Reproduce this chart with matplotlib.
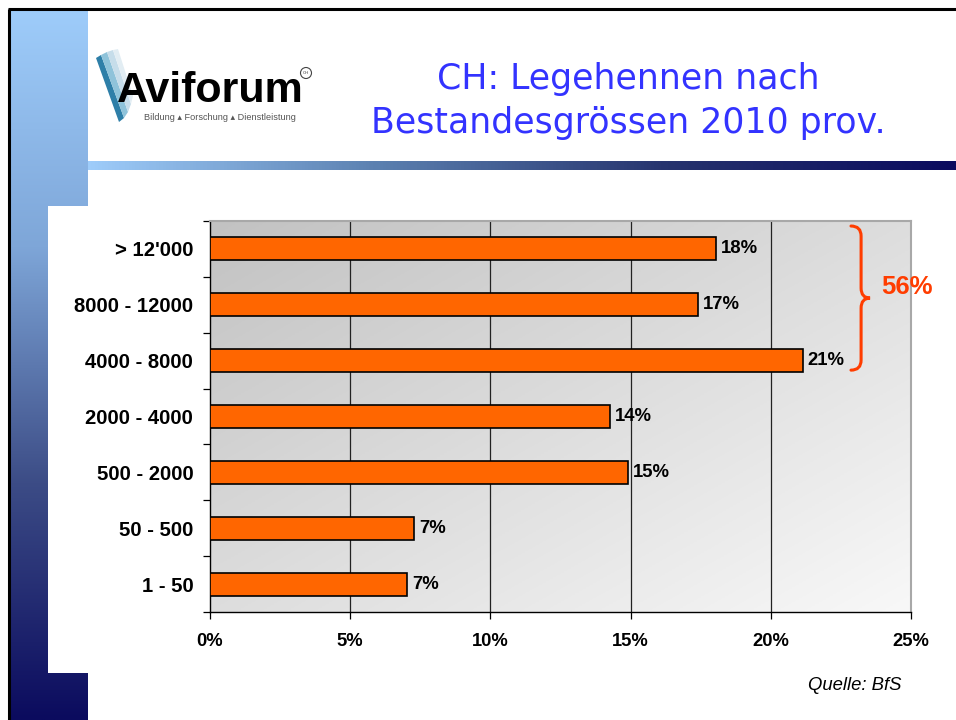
import numpy as np
import matplotlib
matplotlib.use("Agg")
import matplotlib.pyplot as plt
from matplotlib.patches import Rectangle, PathPatch, Polygon, Circle
from matplotlib.path import Path
from matplotlib.colors import LinearSegmentedColormap

# ---------------- data ----------------
categories = ["1 - 50", "50 - 500", "500 - 2000", "2000 - 4000",
              "4000 - 8000", "8000 - 12000", "> 12'000"]
values = [7.04, 7.29, 14.90, 14.25, 21.14, 17.39, 18.04]
value_labels = ["7%", "7%", "15%", "14%", "21%", "17%", "18%"]
xticks = [0, 5, 10, 15, 20, 25]
xtick_labels = ["0%", "5%", "10%", "15%", "20%", "25%"]
group_total_label = "56%"
title = "CH: Legehennen nach\nBestandesgrössen 2010 prov."
source = "Quelle: BfS"

W, H = 956, 720
fig = plt.figure(figsize=(W / 100, H / 100), dpi=100)
fig.patch.set_facecolor("white")

# ---------------- background / slide decoration (pixel coords) ----------------
bg = fig.add_axes([0, 0, 1, 1])
bg.set_xlim(0, W)
bg.set_ylim(H, 0)
bg.axis("off")

# left vertical gradient strip
strip_cmap = LinearSegmentedColormap.from_list("strip", ["#9ECCFA", "#7EA6D8", "#3C4C86", "#0B0B5E"])
grad = np.linspace(0, 1, 256).reshape(-1, 1)
bg.imshow(grad, cmap=strip_cmap, extent=(9, 88, 720, 10), aspect="auto", zorder=1)

# horizontal gradient bar under the title
hgrad = np.linspace(0, 1, 256).reshape(1, -1)
h_cmap = LinearSegmentedColormap.from_list("hbar", ["#9ECCFA", "#5B80B0", "#26336E", "#0B0B5E"])
bg.imshow(hgrad, cmap=h_cmap, extent=(88, 956, 170, 161), aspect="auto", zorder=1)

# white chart panel
bg.add_patch(Rectangle((48, 206), 956 - 48, 673 - 206, facecolor="white", edgecolor="none", zorder=2))

# black slide border (left and top)
bg.plot([9, 9], [9, 720], color="black", lw=2.2, zorder=3, solid_capstyle="butt")
bg.plot([8, 956], [9, 9], color="black", lw=2.2, zorder=3, solid_capstyle="butt")

# logo: feather strokes
feathers = [
    ([(96, 58), (101, 55), (124, 118), (119, 122)], "#2E7FA8"),
    ([(101, 55), (107, 52), (128, 112), (124, 118)], "#8FC3DA"),
    ([(107, 52), (113, 50), (131, 104), (128, 112)], "#C6DDEA"),
    ([(113, 50), (118, 49), (133, 96), (131, 104)], "#E2EDF3"),
]
for pts, col in feathers:
    bg.add_patch(Polygon(pts, closed=True, facecolor=col, edgecolor="none", zorder=3))
bg.text(117, 102, "Aviforum", fontsize=31, fontweight="bold", family="Liberation Sans",
        color="black", ha="left", va="baseline", zorder=4)
bg.add_patch(Circle((306, 73), 5.5, facecolor="white", edgecolor="#444444", lw=0.8, zorder=4))
bg.text(306, 73.5, "CH", fontsize=3.2, ha="center", va="center", color="#444444", zorder=5)
bg.text(144, 117, "Bildung \u25B4 Forschung \u25B4 Dienstleistung", fontsize=6.6,
        family=["Liberation Sans", "DejaVu Sans"], color="#555555", ha="left", va="center", zorder=4)

# title
bg.text(628, 101, title, fontsize=25, color="#3333FF", ha="center", va="center",
        family="DejaVu Sans", linespacing=1.4, zorder=4)

# source
bg.text(902, 685, source, fontsize=13.3, style="italic", family="Liberation Sans",
        color="black", ha="right", va="center", zorder=4)

# ---------------- chart ----------------
L, R, T, B = 210, 911, 221, 612
ax = fig.add_axes([L / W, 1 - B / H, (R - L) / W, (B - T) / H])
ax.set_zorder(5)
ax.patch.set_alpha(0)

# gradient plot-area background: darker top-left, lighter bottom-right
yy, xx = np.mgrid[0:1:200j, 0:1:200j]
g = (xx + yy) / 2
area_cmap = LinearSegmentedColormap.from_list("area", ["#C2C2C2", "#DDDDDD", "#F8F8F8"])
ax.imshow(g, cmap=area_cmap, extent=(0, 1, 0, 1), transform=ax.transAxes,
          aspect="auto", origin="upper", zorder=0)

ypos = np.arange(len(categories))
ax.set_xlim(0, 25)
ax.set_ylim(-0.5, len(categories) - 0.5)

for x in xticks[1:-1]:
    ax.axvline(x, color="#222222", lw=0.9, zorder=1)

ax.barh(ypos, values, height=0.41, color="#FF6600", edgecolor="black", linewidth=1.2, zorder=3)

for y, v, lab in zip(ypos, values, value_labels):
    ax.annotate(lab, (v, y), xytext=(3.5, 0), textcoords="offset points",
                ha="left", va="center", fontsize=13.3, fontweight="bold",
                family="Liberation Sans", color="black", zorder=4)

ax.set_yticks(ypos)
ax.set_yticklabels(categories, fontsize=14.6, fontweight="bold", family="Liberation Sans")
ax.set_yticks(np.arange(-0.5, len(categories)), minor=True)
ax.tick_params(axis="y", which="major", length=0, pad=12)
ax.tick_params(axis="y", which="minor", length=5, width=0.9, direction="out", color="black")

ax.set_xticks(xticks)
ax.set_xticklabels(xtick_labels, fontsize=13.2, fontweight="bold", family="Liberation Sans")
ax.tick_params(axis="x", which="major", length=5, width=0.9, direction="out", pad=10, color="black")

for side in ("left", "bottom"):
    ax.spines[side].set_color("black")
    ax.spines[side].set_linewidth(1.0)
for side in ("top", "right"):
    ax.spines[side].set_color("#A8A8A8")
    ax.spines[side].set_linewidth(1.5)

# brace around the top three bars
bx0, bx1, bx2 = 22.86, 23.22, 23.54
by_top, by_mid, by_bot = 6.41, 5.12, 3.83
dy = 0.18
verts = [(bx0, by_top), (bx1, by_top), (bx1, by_top - dy),
         (bx1, by_mid + dy),
         (bx1, by_mid), (bx2, by_mid),
         (bx1, by_mid), (bx1, by_mid - dy),
         (bx1, by_bot + dy),
         (bx1, by_bot), (bx0, by_bot)]
codes = [Path.MOVETO, Path.CURVE3, Path.CURVE3,
         Path.LINETO,
         Path.CURVE3, Path.CURVE3,
         Path.CURVE3, Path.CURVE3,
         Path.LINETO,
         Path.CURVE3, Path.CURVE3]
ax.add_patch(PathPatch(Path(verts, codes), facecolor="none", edgecolor="#FF3D00",
                       lw=2.2, clip_on=False, zorder=6, capstyle="round"))
ax.text(24.84, 5.32, group_total_label, fontsize=18.5, fontweight="bold", family="Liberation Sans",
        color="#FF3D00", ha="center", va="center", clip_on=False, zorder=6)

fig.savefig("out.png", dpi=100, facecolor="white")
